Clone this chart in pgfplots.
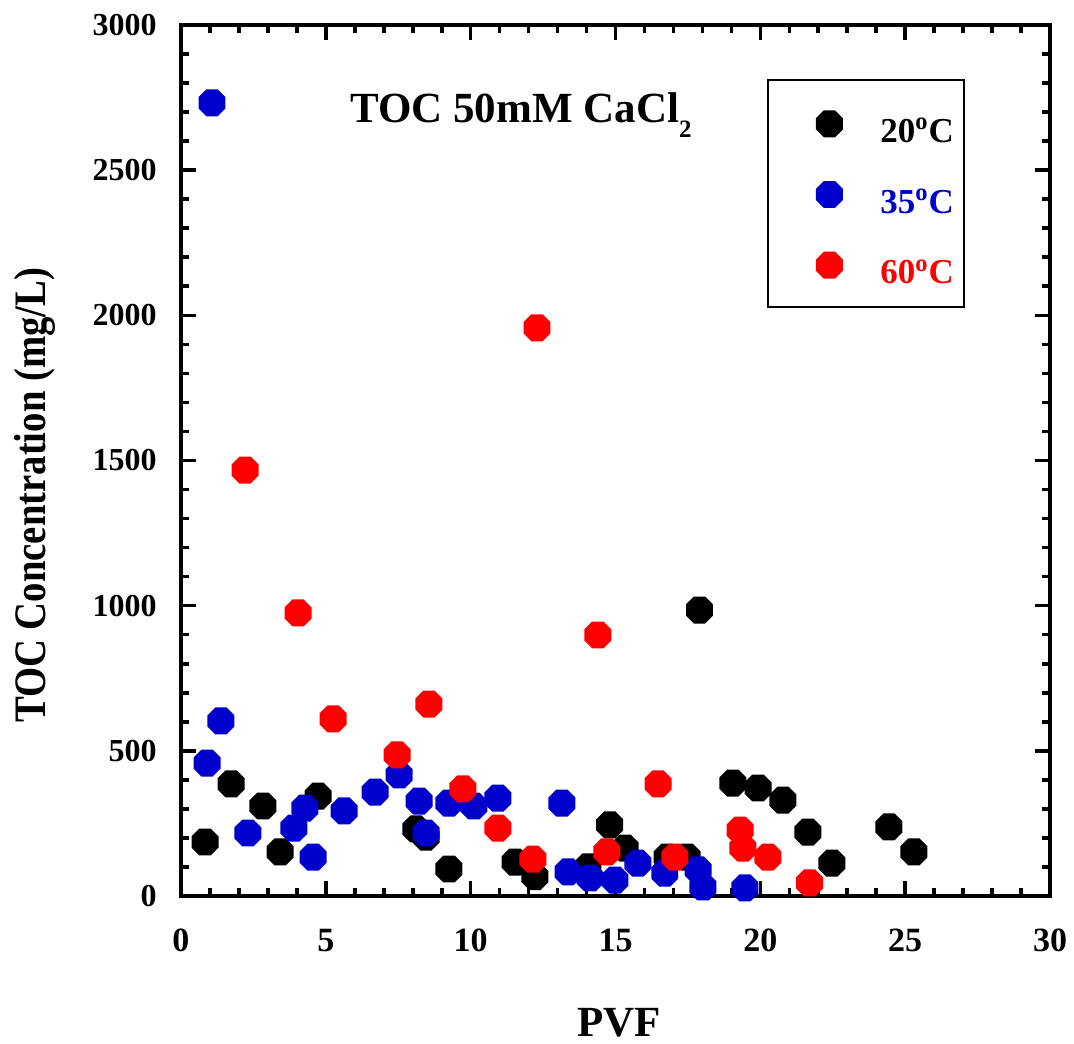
\documentclass[border=0pt]{standalone}
\usepackage{pgfplots}
\pgfplotsset{compat=1.18}
\usepackage{fontspec}
\setmainfont{Liberation Serif}
\definecolor{myblue}{RGB}{0,0,205}
\definecolor{myred}{RGB}{255,0,0}
\pgfdeclareplotmark{oct}{%
  \pgfpathmoveto{\pgfpointpolar{22.5}{\pgfplotmarksize}}%
  \pgfpathlineto{\pgfpointpolar{67.5}{\pgfplotmarksize}}%
  \pgfpathlineto{\pgfpointpolar{112.5}{\pgfplotmarksize}}%
  \pgfpathlineto{\pgfpointpolar{157.5}{\pgfplotmarksize}}%
  \pgfpathlineto{\pgfpointpolar{202.5}{\pgfplotmarksize}}%
  \pgfpathlineto{\pgfpointpolar{247.5}{\pgfplotmarksize}}%
  \pgfpathlineto{\pgfpointpolar{292.5}{\pgfplotmarksize}}%
  \pgfpathlineto{\pgfpointpolar{337.5}{\pgfplotmarksize}}%
  \pgfpathclose
  \pgfusepathqfill}
\begin{document}
\begin{tikzpicture}
\begin{axis}[name=ax, scale only axis, width=434.5pt, height=435.5pt,
  xmin=0, xmax=30, ymin=0, ymax=3000,
  xtick={0,5,...,30}, ytick={0,500,...,3000},
  minor x tick num=4, minor y tick num=4,
  tick align=inside,
  major tick length=7.5pt, minor tick length=4pt,
  tick style={line width=1.8pt, black},
  axis line style={line width=2pt},
  clip=false,
  xticklabel style={font=\fontsize{17}{17}\selectfont\bfseries},
  yticklabel style={font=\fontsize{16}{16}\selectfont\bfseries},
  /pgf/number format/assume math mode=true,
  /pgf/number format/1000 sep={},
  xticklabel shift=13pt,
  yticklabel shift=8.7pt,
  xlabel={PVF},
  xlabel style={font=\fontsize{21.5}{21.5}\selectfont\bfseries, at={(axis description cs:0.504,-0.145)}, anchor=center},
  ylabel={TOC Concentration (mg/L)},
  ylabel style={font=\fontsize{22.5}{22.5}\selectfont\bfseries, at={(axis description cs:-0.1565,0.46)}, anchor=base, xscale=0.86},
  legend style={draw=none, fill=none, at={(axis description cs:0.7273,0.9025)}, anchor=north west,
    inner sep=0pt, row sep=16.6pt, nodes={inner sep=0pt},
    font=\fontsize{17.5}{17.5}\selectfont\bfseries},
  legend cell align=left,
  legend image code/.code={\path[draw=none,fill=none] (-8pt,-8pt) rectangle (25.5pt,8pt); \draw[#1] plot coordinates {(0pt,4pt)};},
]
\addplot[only marks, mark=oct, mark size=7.3pt, color=black] coordinates {
(0.83,186) (1.73,386) (2.83,310) (3.42,152) (4.73,344) (8.11,231) (8.46,203)
(9.25,93) (11.53,117) (12.22,67) (14.05,100) (14.8,245) (15.33,165) (16.78,134)
(17.47,134) (17.9,985) (19.05,389) (19.92,372) (20.78,330) (21.64,220) (22.47,113)
(24.44,238) (25.3,152)
};
\addlegendentry{20\textsuperscript{o}C}
\addplot[only marks, mark=oct, mark size=7.3pt, color=myblue] coordinates {
(1.07,2732) (0.9,458) (1.38,603) (2.31,217) (3.9,234) (4.28,303) (4.56,134)
(5.63,293) (6.7,358) (7.53,417) (8.22,327) (8.46,217) (9.25,320) (10.11,310)
(10.94,337) (13.15,320) (13.36,83) (14.12,62) (14.98,55) (15.77,113) (16.7,79)
(17.85,90) (18.02,31) (19.47,28)
};
\addlegendentry{\textcolor{myblue}{35\textsuperscript{o}C}}
\addplot[only marks, mark=oct, mark size=7.3pt, color=myred] coordinates {
(2.21,1467) (4.04,975) (5.25,610) (7.46,486) (8.56,661) (9.73,369) (10.94,234)
(12.15,127) (12.29,1957) (14.39,899) (14.7,152) (16.47,386) (17.05,134) (19.3,227)
(19.4,165) (20.26,134) (21.7,45)
};
\addlegendentry{\textcolor{myred}{60\textsuperscript{o}C}}
\draw[line width=1pt] (axis description cs:0.6755,0.9369) rectangle (axis description cs:0.901,0.6762);
\node[font=\fontsize{21.5}{21.5}\selectfont\bfseries, anchor=base west] at (axis cs:5.6,2664) {TOC 50mM CaCl\raisebox{-7.5pt}{\fontsize{12.5}{12.5}\selectfont 2}};
\end{axis}
\pgfresetboundingbox
\path ([shift={(-90.5pt,-73.5pt)}]ax.south west) rectangle ([shift={(12pt,12.5pt)}]ax.north east);
\end{tikzpicture}
\end{document}
